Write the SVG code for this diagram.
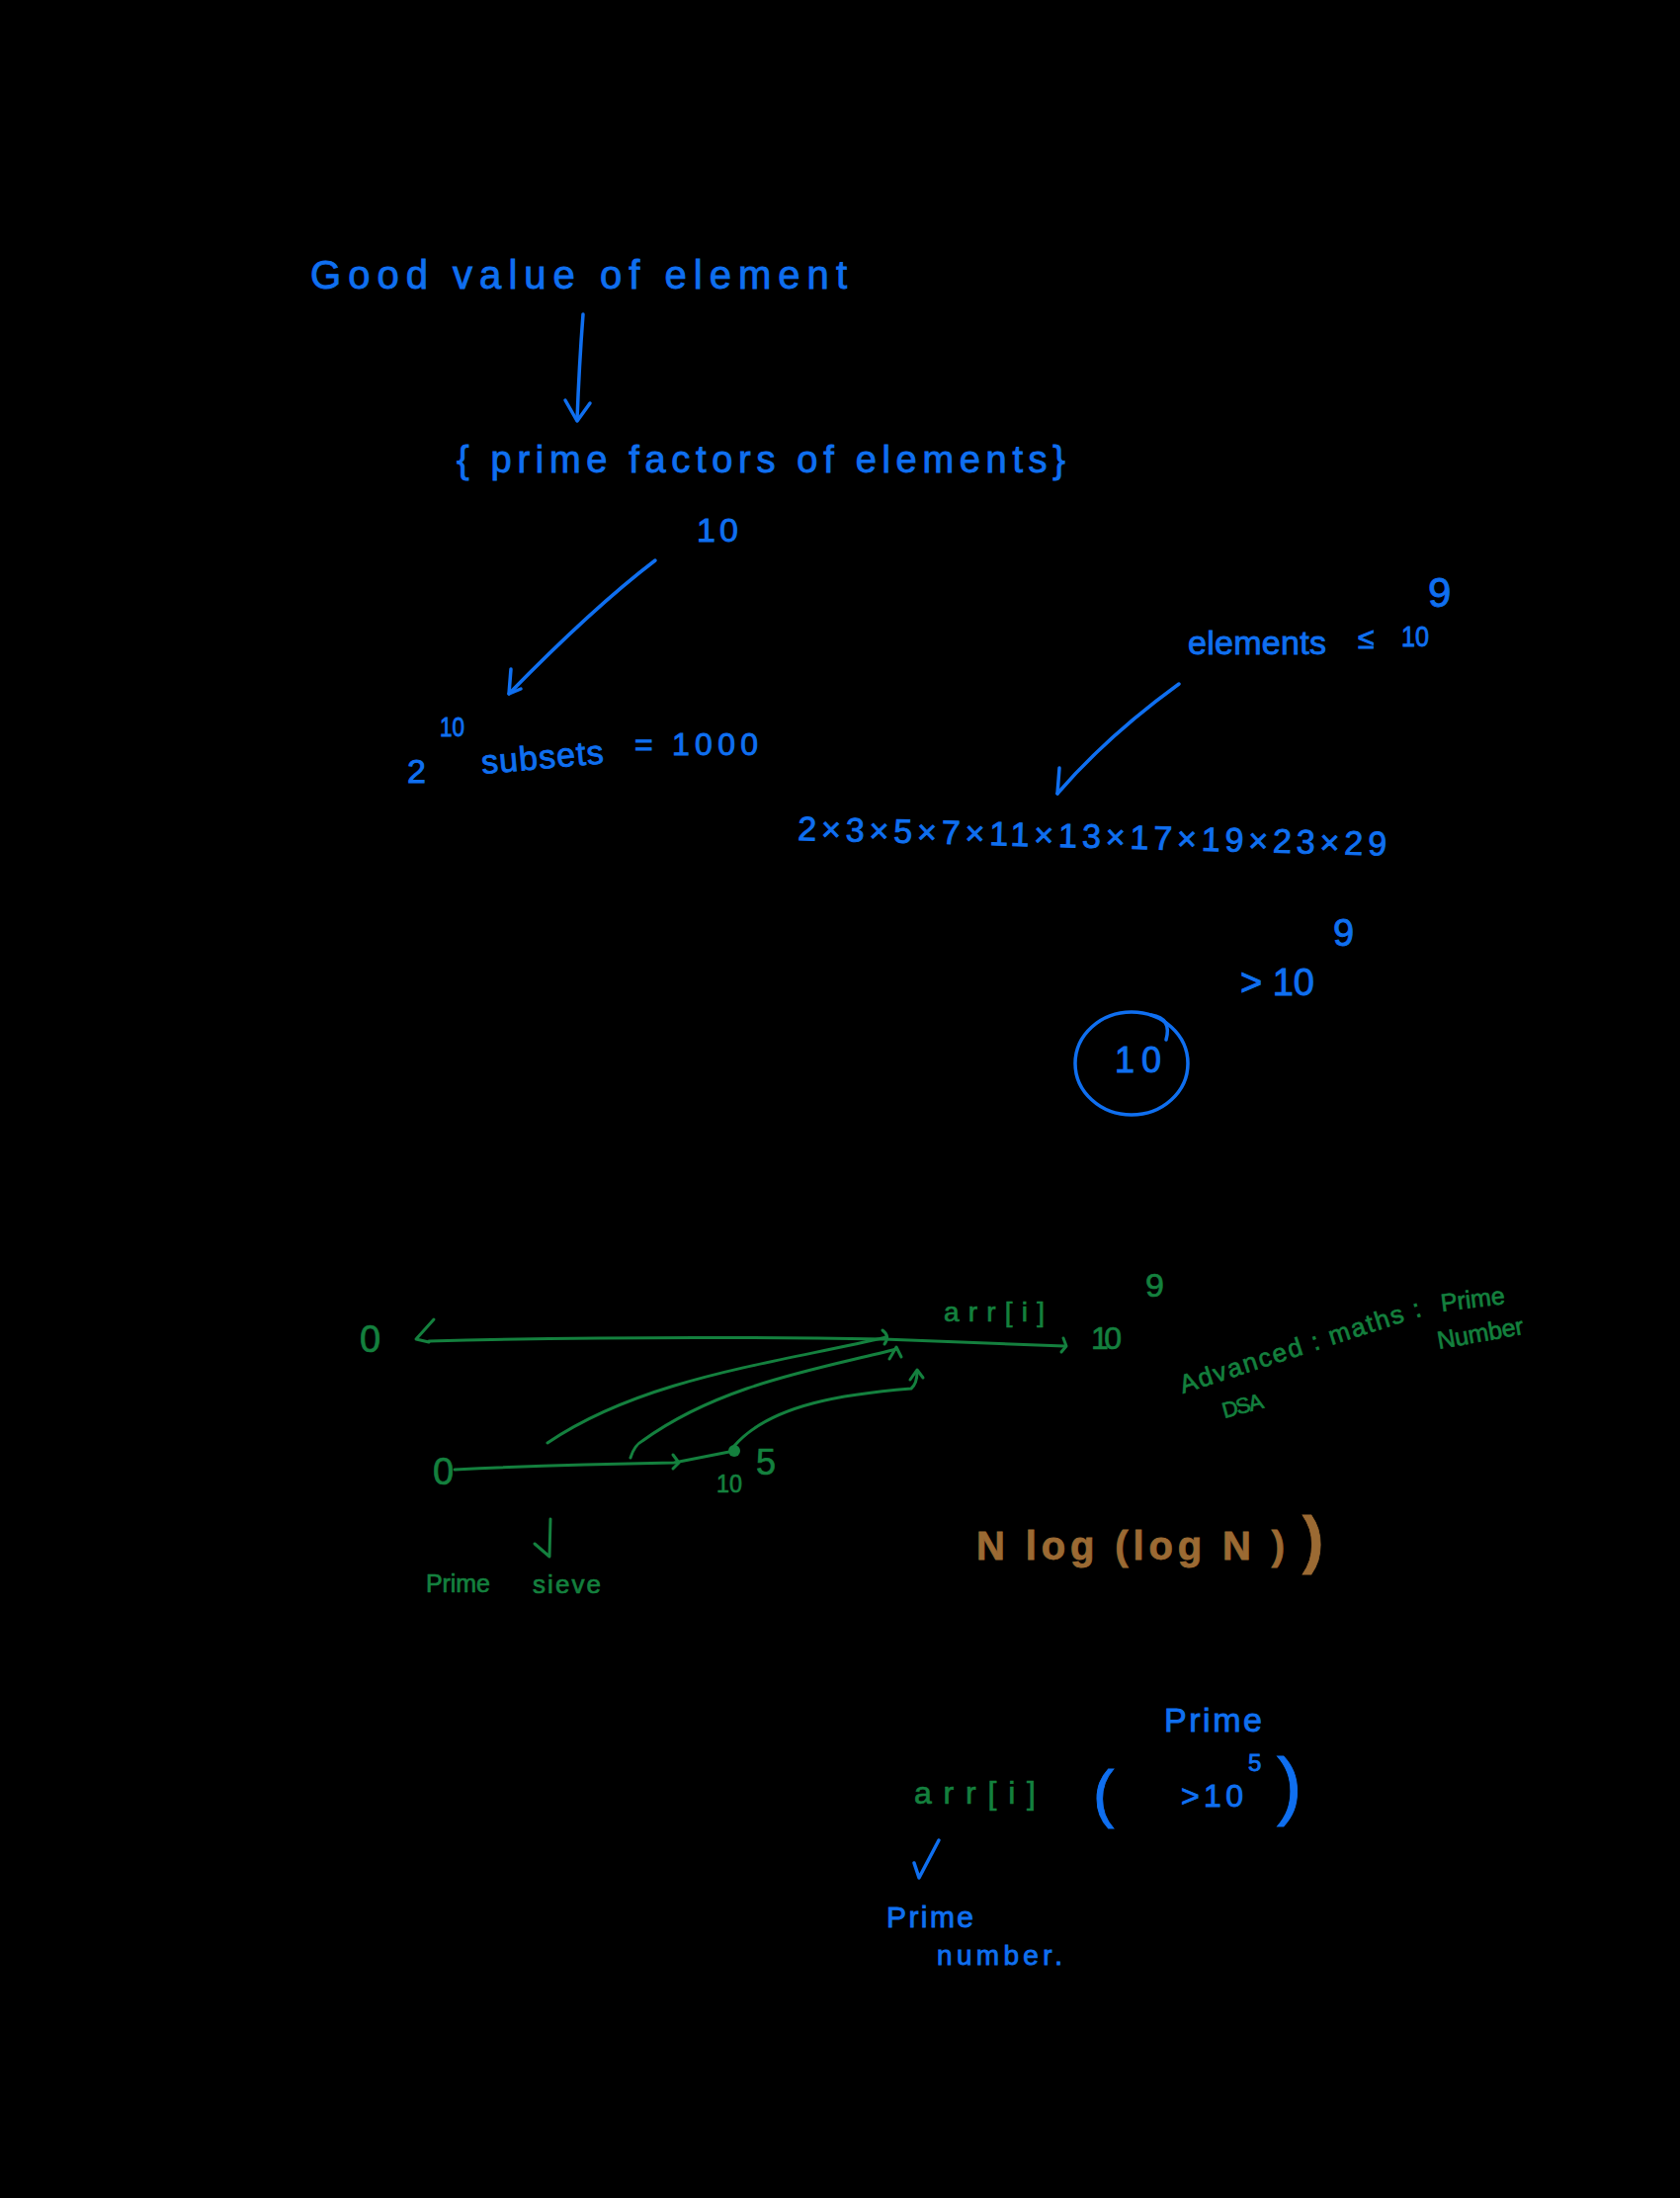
<svg xmlns="http://www.w3.org/2000/svg" width="1700" height="2224" viewBox="0 0 1700 2224">
<defs>
<style>
.b{fill:#0f6ff0;stroke:#0f6ff0;stroke-width:0.9;font-family:"Liberation Sans","DejaVu Sans",sans-serif}
.g{fill:#14803e;stroke:#14803e;stroke-width:0.7;font-family:"Liberation Sans","DejaVu Sans",sans-serif}
.o{fill:#9b6a33;stroke:#9b6a33;stroke-width:0.8;font-family:"Liberation Sans","DejaVu Sans",sans-serif;font-weight:bold}
.bl{fill:none;stroke:#0f6ff0;stroke-width:3.5;stroke-linecap:round;stroke-linejoin:round}
.gl{fill:none;stroke:#14803e;stroke-width:3;stroke-linecap:round;stroke-linejoin:round}
</style>
</defs>
<rect x="0" y="0" width="1700" height="2224" fill="#000"/>

<g id="good-value">
<text class="b" x="314" y="292" font-size="40" textLength="543" lengthAdjust="spacing">Good value of element</text>
</g>
<g id="prime-factors">
<text class="b" x="462" y="478" font-size="38" textLength="616" lengthAdjust="spacing">{ prime factors of elements}</text>
</g>
<g id="ten">
<text class="b" x="705" y="548" font-size="34" textLength="42" lengthAdjust="spacing">10</text>
</g>
<g id="subsets">
<text class="b" x="412" y="792" font-size="34">2</text>
<text class="b" x="445" y="745" font-size="28" textLength="25" lengthAdjust="spacingAndGlyphs">10</text>
<text class="b" x="488" y="783" font-size="34" textLength="124" lengthAdjust="spacing" transform="rotate(-5 488 783)">subsets</text>
<text class="b" x="642" y="764" font-size="32" textLength="125" lengthAdjust="spacing">= 1000</text>
</g>
<g id="elements-limit">
<text class="b" x="1202" y="662" font-size="34" textLength="140" lengthAdjust="spacing">elements</text>
<text class="b" x="1374" y="656" font-size="30">≤</text>
<text class="b" x="1418" y="654" font-size="30" textLength="28" lengthAdjust="spacingAndGlyphs">10</text>
<text class="b" x="1445" y="614" font-size="42">9</text>
</g>
<g id="product">
<text class="b" x="807" y="850" font-size="34" textLength="596" lengthAdjust="spacing" transform="rotate(1.5 807 850)">2×3×5×7×11×13×17×19×23×29</text>
</g>
<g id="gt-1e9">
<text class="b" x="1255" y="1007" font-size="38" textLength="75" lengthAdjust="spacing">&gt; 10</text>
<text class="b" x="1349" y="957" font-size="38">9</text>
</g>
<g id="circle-ten">
<ellipse cx="1145" cy="1076" rx="57" ry="52" class="bl" stroke-width="4.5"/>
<path class="bl" stroke-width="2" d="M1165,1027 Q1186,1030 1180,1052"/>
<text class="b" x="1128" y="1085" font-size="36" textLength="47" lengthAdjust="spacing">10</text>
</g>

<g id="numberline-top">
<text class="g" x="364" y="1368" font-size="38">0</text>
<text class="g" x="955" y="1337" font-size="28" textLength="102" lengthAdjust="spacing">arr[i]</text>
<text class="g" x="1104" y="1365" font-size="32" textLength="31" lengthAdjust="spacing">10</text>
<text class="g" x="1159" y="1312" font-size="34">9</text>
</g>
<g id="advanced-note">
<text class="g" x="1197" y="1410" font-size="26" textLength="255" lengthAdjust="spacing" transform="rotate(-18 1197 1410)">Advanced : maths :</text>
<text class="g" x="1459" y="1327" font-size="25" textLength="65" lengthAdjust="spacing" transform="rotate(-7 1459 1327)">Prime</text>
<text class="g" x="1456" y="1365" font-size="25" textLength="88" lengthAdjust="spacing" transform="rotate(-10 1456 1365)">Number</text>
<text class="g" x="1239" y="1435" font-size="22" textLength="42" lengthAdjust="spacing" transform="rotate(-15 1239 1435)">DSA</text>
</g>
<g id="numberline-bottom">
<text class="g" x="438" y="1502" font-size="38">0</text>
<text class="g" x="725" y="1510" font-size="26" textLength="26" lengthAdjust="spacingAndGlyphs">10</text>
<text class="g" x="765" y="1492" font-size="36">5</text>
<circle cx="743" cy="1468" r="6" fill="#14803e"/>
</g>
<g id="prime-sieve">
<text class="g" x="431" y="1611" font-size="25" textLength="65" lengthAdjust="spacing">Prime</text>
<text class="g" x="539" y="1612" font-size="26" textLength="69" lengthAdjust="spacing">sieve</text>
</g>
<g id="complexity">
<text class="o" x="988" y="1578" font-size="40" textLength="312" lengthAdjust="spacing">N log (log N )</text>
<text class="o" x="1318" y="1580" font-size="64">)</text>
</g>
<g id="prime-bracket">
<text class="b" x="1178" y="1752" font-size="34" textLength="99" lengthAdjust="spacing">Prime</text>
<text class="b" x="1106" y="1837" font-size="64" font-weight="300">(</text>
<text class="b" x="1195" y="1828" font-size="32" textLength="63" lengthAdjust="spacing">&gt;10</text>
<text class="b" x="1263" y="1792" font-size="24">5</text>
<text class="b" x="1292" y="1832" font-size="76">)</text>
</g>
<g id="arr-prime">
<text class="g" x="925" y="1825" font-size="32" textLength="123" lengthAdjust="spacing">arr[i]</text>
<text class="b" x="897" y="1950" font-size="30" textLength="88" lengthAdjust="spacing">Prime</text>
<text class="b" x="948" y="1988" font-size="28" textLength="127" lengthAdjust="spacing">number.</text>
</g>

<g id="connectors">
<path class="bl" d="M590,318 Q586,370 584,425"/>
<path class="bl" d="M572,405 L584,426 L597,408"/>
<path class="bl" d="M663,567 Q600,615 515,702"/>
<path class="bl" d="M517,677 L515,702 L527,697"/>
<path class="bl" d="M1193,692 Q1120,745 1070,803"/>
<path class="bl" d="M1072,777 L1070,803"/>
<path class="gl" d="M434,1357 Q650,1351 894,1355 L1077,1362"/>
<path class="gl" d="M439,1335 L421,1355 L434,1358"/>
<path class="gl" d="M1076,1354 L1079,1362 L1074,1368"/>
<path class="gl" d="M554,1460 C650,1395 780,1380 897,1353"/>
<path class="gl" d="M893,1346 Q901,1352 895,1360"/>
<path class="gl" d="M638,1475 Q642,1462 650,1458 C730,1400 830,1385 907,1365"/>
<path class="gl" d="M900,1375 L907,1363 L912,1373"/>
<path class="gl" d="M743,1463 C780,1420 860,1410 922,1405 Q928,1400 928,1388"/>
<path class="gl" d="M921,1396 L928,1386 L934,1394"/>
<path class="gl" d="M460,1487 Q560,1482 682,1480 L743,1468"/>
<path class="gl" d="M681,1472 L687,1480 L681,1486"/>
<path class="gl" d="M557,1537 L556,1575 M541,1562 L556,1575"/>
<path class="bl" d="M925,1885 L930,1900 L950,1862"/>
</g>
</svg>
